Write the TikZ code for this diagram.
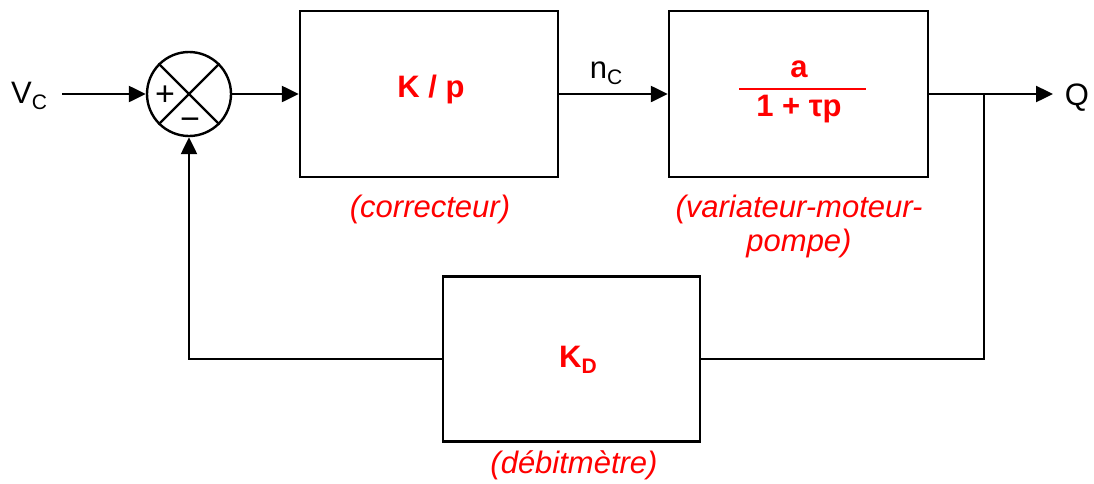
\documentclass[tikz,border=0pt]{standalone}
\usepackage{fontspec}
\setmainfont{Liberation Sans}
\usetikzlibrary{arrows.meta}
\definecolor{lblred}{RGB}{255,0,0}
\newcommand{\subC}[1]{\raisebox{-0.22em}{\fontsize{21}{21}\selectfont #1}}
\begin{document}
\begin{tikzpicture}[x=1pt,y=-1pt,
  wire/.style={line width=2.4pt,draw=black},
  arr/.style={wire,-{Triangle[length=17pt,width=16pt]}},
  blk/.style={draw=black,line width=2.4pt,inner sep=0pt},
  txt/.style={font=\fontsize{31}{36}\selectfont,inner sep=0pt,anchor=base},
  rtxt/.style={txt,text=lblred,font=\fontsize{31}{36}\selectfont\itshape},
  btxt/.style={txt,text=lblred,font=\fontsize{31}{36}\selectfont\bfseries}]
\useasboundingbox (0,0) rectangle (1094,483);
% blocks
\node[blk,minimum width=258pt,minimum height=166pt] (b1) at (429,94) {};
\node[blk,minimum width=259pt,minimum height=166pt] (b2) at (798.5,94) {};
\node[blk,minimum width=257pt,minimum height=165pt] (b3) at (571.5,359) {};
% summing junction
\node[draw=black,line width=2.4pt,circle,minimum size=84pt,inner sep=0pt] (s) at (189,94) {};
\draw[wire] (s.north west) -- (s.south east);
\draw[wire] (s.north east) -- (s.south west);
\node[txt,font=\fontsize{34}{36}\selectfont] (plus) at (165,105) {+};
\node[txt,font=\fontsize{34}{36}\selectfont] (minus) at (190,130) {−};
% texts
\node[txt] (vc) at (29,103) {V\subC{C}};
\node[txt] (q) at (1077,105) {Q};
\node[txt] (nc) at (606,78) {n\subC{C}};
\node[btxt] (kp) at (431,97) {K / p};
\node[btxt] (na) at (799,77) {a};
\node[btxt] (den) at (799,116) {1 + τp};
\draw[draw=lblred,line width=2.2pt] (739,89) coordinate (fl) -- (866,89) coordinate (fr);
\node[btxt] (kd) at (578,367) {K\subC{D}};
\node[rtxt] (lc) at (430,217) {(correcteur)};
\node[rtxt] (lv1) at (799,217) {(variateur-moteur-};
\node[rtxt] (lv2) at (799,251) {pompe)};
\node[rtxt] (ld) at (574,473) {(débitmètre)};
% connectors
\coordinate (vin) at (62,94);
\coordinate (br) at (984,94);
\coordinate (qend) at (1053,94);
\coordinate (brd) at (984,359);
\coordinate (fbl) at (189,359);
\draw[arr] (vin) -- (s.west);
\draw[arr] (s.east) -- (b1.west);
\draw[arr] (b1.east) -- (b2.west);
\draw[arr] (b2.east) -- (qend);
\draw[wire] (br) -- (brd) -- (b3.east);
\draw[arr] (b3.west) -- (fbl) -- (s.south);
\end{tikzpicture}
\end{document}
